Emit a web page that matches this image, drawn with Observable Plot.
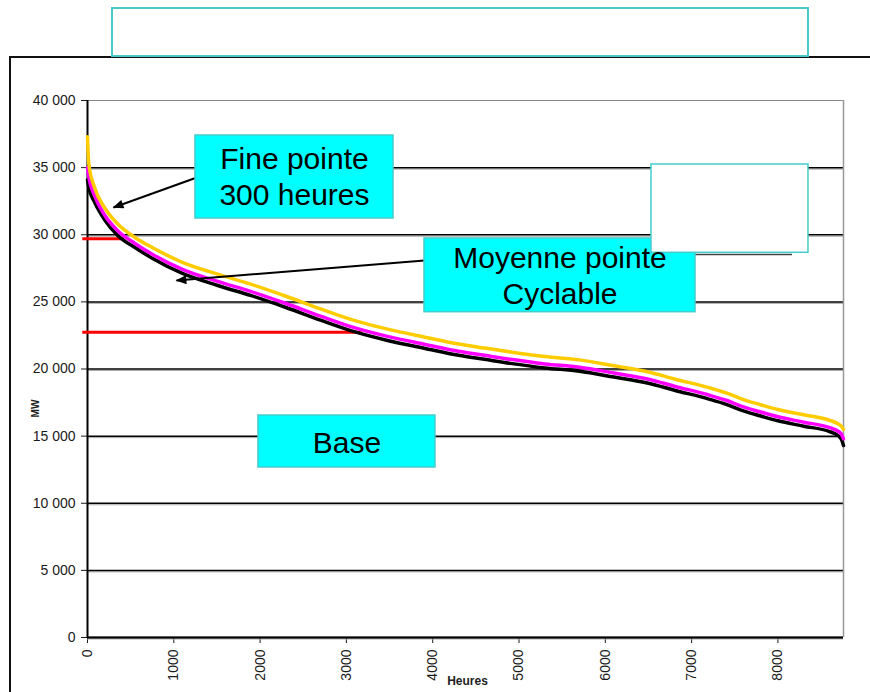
<!DOCTYPE html>
<html><head><meta charset="utf-8">
<script src="https://cdn.jsdelivr.net/npm/d3@7"></script>
<script src="https://cdn.jsdelivr.net/npm/@observablehq/plot@0.6"></script>
<style>
body{margin:0;background:#fff;}
#wrap{position:relative;width:870px;height:692px;overflow:hidden;background:#fff;}
#wrap svg{position:absolute;left:0;top:0;}
.frameTop{position:absolute;left:9px;top:56px;width:861px;height:2px;background:#111;}
.frameLeft{position:absolute;left:9px;top:56px;width:2px;height:636px;background:#111;}
.titleBox{position:absolute;left:111px;top:7px;width:694px;height:46px;border:2px solid #48c9cc;background:#fff;}
</style></head>
<body><div id="wrap"></div>
<script>
// Load duration curves (hours sorted by demand, MW)
const hours     = [0, 15, 80, 200, 350, 550, 750, 1100, 1500, 1900, 2300, 2700, 3100, 3500, 3900, 4300, 4600, 4900, 5300, 5700, 6100, 6500, 6800, 7200, 7400, 7600, 7800, 8000, 8300, 8600, 8700, 8740, 8760];
const yellowMW  = [37300,35300,33550,32000,30800,29800,29050,27950,27080,26300,25420,24480,23600,22930,22390,21860,21560,21270,20930,20680,20240,19780,19260,18610,18220,17720,17340,16980,16590,16180,15900,15700,15500];
const magentaMW = [35000,34300,32950,31450,30300,29350,28550,27420,26540,25760,24880,23940,23060,22390,21850,21320,21020,20720,20380,20130,19700,19240,18720,18060,17670,17180,16800,16440,16040,15630,15350,15100,14800];
const blackMW   = [34100,33500,32450,31100,29950,29050,28250,27120,26240,25460,24580,23640,22760,22090,21550,21020,20720,20420,20080,19830,19400,18940,18420,17760,17370,16880,16500,16140,15740,15330,15020,14700,14300];

const xTicks = [0, 1000, 2000, 3000, 4000, 5000, 6000, 7000, 8000];
const yTicks = [0, 5000, 10000, 15000, 20000, 25000, 30000, 35000, 40000];

// red threshold segments (MW level, hour where it meets the curve)
const redLevels = [29700, 22740];
const redEnds   = [430, 3180];

const boxLabels = ["Fine pointe\n300 heures", "Moyenne pointe\nCyclable", "Base"];
const axisLabels = {x: "Heures", y: "MW"};

const H_MAX = 8760;
const toRows = arr => hours.map((h, i) => ({h, v: arr[i]}));
const redRows = redLevels.map((v, i) => ({v, end: redEnds[i]}));
const fmtY = d => d3.format(",")(d).replace(/,/g, " ");

// annotation geometry (data units)
const boxes = [
  {x1: 1251, x2: 3546, y1: 31210, y2: 37393, fill: "#00ffff"},
  {x1: 3905, x2: 7045, y1: 24231, y2: 29721, fill: "#00ffff"},
  {x1: 1981, x2: 4032, y1: 12663, y2: 16536, fill: "#00ffff"},
  {x1: 6535, x2: 8354, y1: 28656, y2: 35233, fill: "#ffffff"}
];
const texts = [
  {t: boxLabels[0], x: 2398, y: 32179},
  {t: boxLabels[1], x: 5475, y: 24805},
  {t: boxLabels[2], x: 3007, y: 13780}
];
const arrows = [
  {x1: 1275, y1: 34287, x2: 301, y2: 32030},
  {x1: 3905, y1: 28082, x2: 1031, y2: 26592}
];

const chart = Plot.plot({
  width: 870, height: 692,
  marginLeft: 87, marginRight: 27, marginTop: 100, marginBottom: 55,
  style: {fontFamily: "'Liberation Sans', Arial, sans-serif", fontSize: "14px", color: "#1a1a1a", background: "white"},
  x: {domain: [0, H_MAX], ticks: xTicks, tickFormat: d => String(d), tickRotate: -90, tickSize: 6, tickPadding: 6, label: null},
  y: {domain: [0, 40000], ticks: yTicks, tickFormat: fmtY, tickSize: 6, tickPadding: 6, label: null},
  marks: [
    Plot.ruleY(yTicks.filter(d => d < 40000), {x1: 0, x2: H_MAX, stroke: "#aaa", strokeWidth: 1, dy: 1.5}),
    Plot.ruleY(yTicks.filter(d => d < 40000), {x1: 0, x2: H_MAX, stroke: "#000", strokeWidth: 1.5}),
    Plot.ruleY([40000], {x1: 0, x2: H_MAX, stroke: "#888", strokeWidth: 1.2}),
    Plot.ruleX([H_MAX], {y1: 0, y2: 40000, stroke: "#999", strokeWidth: 1.5}),
    Plot.ruleY([0], {x1: 0, x2: H_MAX, stroke: "#000", strokeWidth: 2}),
    Plot.ruleX([0], {y1: 0, y2: 40000, stroke: "#000", strokeWidth: 2}),
    Plot.ruleY([28529], {x1: 7045, x2: 8169, stroke: "#444", strokeWidth: 1.5}),
    Plot.ruleY(redRows, {y: "v", x1: -55, x2: "end", stroke: "#ff0000", strokeWidth: 3}),
    Plot.line(toRows(blackMW), {x: "h", y: "v", stroke: "#000", strokeWidth: 3.5, curve: "monotone-x"}),
    Plot.line(toRows(magentaMW), {x: "h", y: "v", stroke: "#ff00ff", strokeWidth: 3.5, curve: "monotone-x"}),
    Plot.line(toRows(yellowMW), {x: "h", y: "v", stroke: "#ffcc00", strokeWidth: 3.5, curve: "monotone-x"}),
    Plot.link(arrows, {x1: "x1", y1: "y1", x2: "x2", y2: "y2", stroke: "#000", strokeWidth: 2}),
    Plot.rect(boxes, {x1: "x1", x2: "x2", y1: "y1", y2: "y2", fill: "fill", stroke: "#45cccc", strokeWidth: 1.5}),
    Plot.text(texts, {x: "x", y: "y", text: "t", fontSize: 30, lineAnchor: "bottom", lineHeight: 1.233, textAnchor: "middle", fill: "#000"}),
    Plot.text([axisLabels.x], {x: 4403, y: 0, dy: 44, fontSize: 12, fontWeight: "bold", fill: "#222", lineAnchor: "middle"}),
    Plot.text([axisLabels.y], {x: 0, y: 17058, dx: -52, rotate: -90, fontSize: 10, fontWeight: "bold", fill: "#222"})
  ]
});

// filled arrowheads on annotation links
const svg = d3.select(chart);
const defs = svg.insert("defs", ":first-child");
defs.append("marker").attr("id", "ahead").attr("viewBox", "0 0 12 10").attr("refX", 11).attr("refY", 5)
  .attr("markerWidth", 12).attr("markerHeight", 9).attr("markerUnits", "userSpaceOnUse").attr("orient", "auto")
  .append("path").attr("d", "M0,0L12,5L0,10Z").attr("fill", "#000");
svg.selectAll('g[aria-label="link"] path, g[aria-label="link"] line').attr("marker-end", "url(#ahead)");

const wrap = document.getElementById("wrap");
wrap.appendChild(chart);
for (const cls of ["frameTop", "frameLeft", "titleBox"]) {
  const d = document.createElement("div");
  d.className = cls;
  wrap.appendChild(d);
}
</script>
</body></html>
